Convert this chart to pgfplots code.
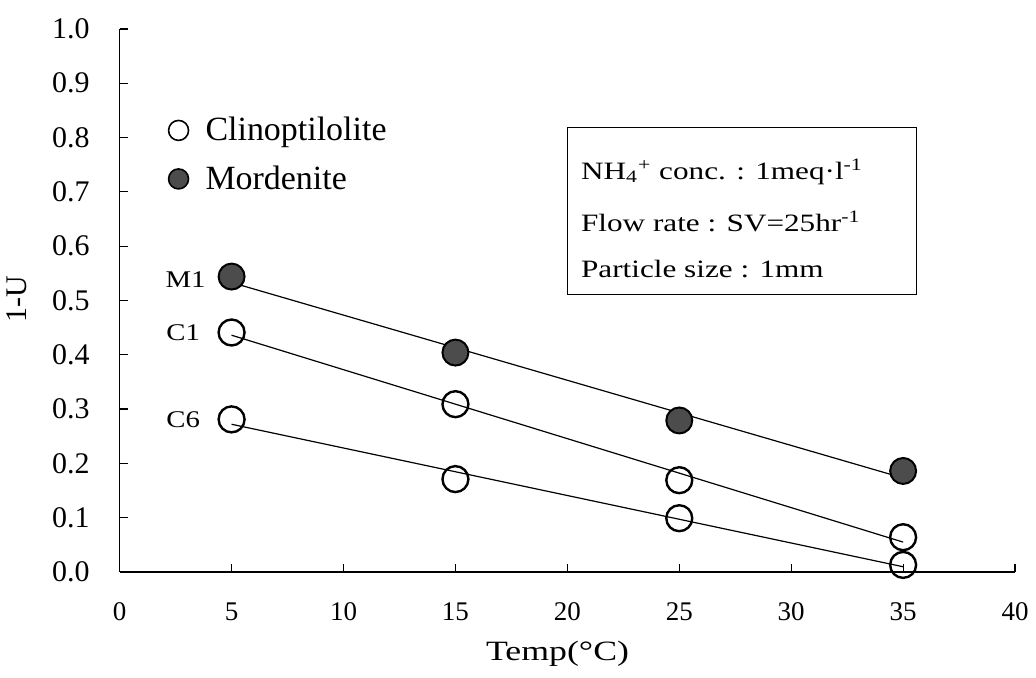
\documentclass[border=0pt]{standalone}
\usepackage{fontspec}
\setmainfont{Liberation Serif}
\newfontfamily\widefont[FakeStretch=1.2]{Liberation Serif}
\newfontfamily\boxfont[FakeStretch=1.25]{Liberation Serif}
\newfontfamily\xlabelfont[FakeStretch=1.28]{Liberation Serif}
\usepackage{pgfplots}
\pgfplotsset{compat=1.18}

\begin{document}
\begin{tikzpicture}
\begin{axis}[
    scale only axis,
    width=448.5pt, height=272pt,
    xmin=0, xmax=40, ymin=0, ymax=1.0,
    axis lines*=left,
    axis line style={line width=0.65pt},
    xtick={0,5,10,15,20,25,30,35,40},
    ytick={0,0.1,0.2,0.3,0.4,0.5,0.6,0.7,0.8,0.9,1.0},
    tick align=inside,
    major tick length=4pt,
    tick style={line width=0.6pt, black},
    /pgf/number format/assume math mode=true,
    xticklabel style={font=\fontsize{13.5}{15}\selectfont, yshift=-12pt},
    yticklabel style={font=\fontsize{15}{17}\selectfont,
        /pgf/number format/fixed, /pgf/number format/fixed zerofill,
        /pgf/number format/precision=1, xshift=-11.5pt},
    xlabel={\xlabelfont Temp(°C)},
    ylabel={1-U},
    xlabel style={font=\fontsize{14}{16}\selectfont, at={(axis description cs:0.489,-0.151)}, anchor=center},
    ylabel style={font=\fontsize{15}{17}\selectfont, at={(axis description cs:-0.115,0.502)}, anchor=center},
    clip=false,
    legend cell align=left,
    legend style={draw=none, fill=none, at={(axis cs:1.9,0.853)}, anchor=north west,
        font=\fontsize{17}{20}\selectfont, row sep=7pt,
        nodes={inner sep=2pt},
        /tikz/every odd column/.append style={column sep=6.5pt}},
    legend image post style={mark size=5pt, line width=0.8pt},
]

% fitted lines
\addplot[forget plot, black, line width=0.6pt] coordinates {(5,0.533) (35,0.173)};
\addplot[forget plot, black, line width=0.6pt] coordinates {(5,0.436) (35,0.055)};
\addplot[forget plot, black, line width=0.6pt] coordinates {(5,0.272) (35,0.0096)};

% Clinoptilolite (C1 and C6)
\addplot[only marks, mark=o, mark size=6.5pt, line width=1.2pt, black] coordinates {
    (5,0.441) (15,0.309) (25,0.169) (35,0.064)
};
\addlegendentry{Clinoptilolite}
\addplot[forget plot, only marks, mark=o, mark size=6.5pt, line width=1.2pt, black] coordinates {
    (5,0.281) (15,0.171) (25,0.099) (35,0.013)
};

% Mordenite (M1)
\addplot[only marks, mark=*, mark size=6.5pt, line width=1.0pt, draw=black, fill=black!70] coordinates {
    (5,0.544) (15,0.404) (25,0.279) (35,0.186)
};
\addlegendentry{Mordenite}

% series labels
\node[anchor=east, font=\widefont\fontsize{12}{14}\selectfont] at (axis cs:4.15,0.539) {M1};
\node[anchor=east, font=\widefont\fontsize{12}{14}\selectfont] at (axis cs:3.9,0.441) {C1};
\node[anchor=east, font=\widefont\fontsize{12}{14}\selectfont] at (axis cs:3.9,0.281) {C6};

% condition box
\draw[line width=0.6pt] (axis cs:20.0,0.818) rectangle (axis cs:35.6,0.511);
\node[anchor=west, font=\boxfont\fontsize{12.5}{14}\selectfont] at (axis cs:20.3,0.737)
    {NH\textsubscript{4}\textsuperscript{+} conc. : 1meq·l\textsuperscript{-1}};
\node[anchor=west, font=\boxfont\fontsize{12.5}{14}\selectfont] at (axis cs:20.3,0.645)
    {Flow rate : SV=25hr\textsuperscript{-1}};
\node[anchor=west, font=\boxfont\fontsize{12.5}{14}\selectfont] at (axis cs:20.3,0.557)
    {Particle size : 1mm};

% page extent
\path (rel axis cs:-0.1316,-0.1949) rectangle (rel axis cs:1.0234,1.0533);
\end{axis}
\end{tikzpicture}
\end{document}
